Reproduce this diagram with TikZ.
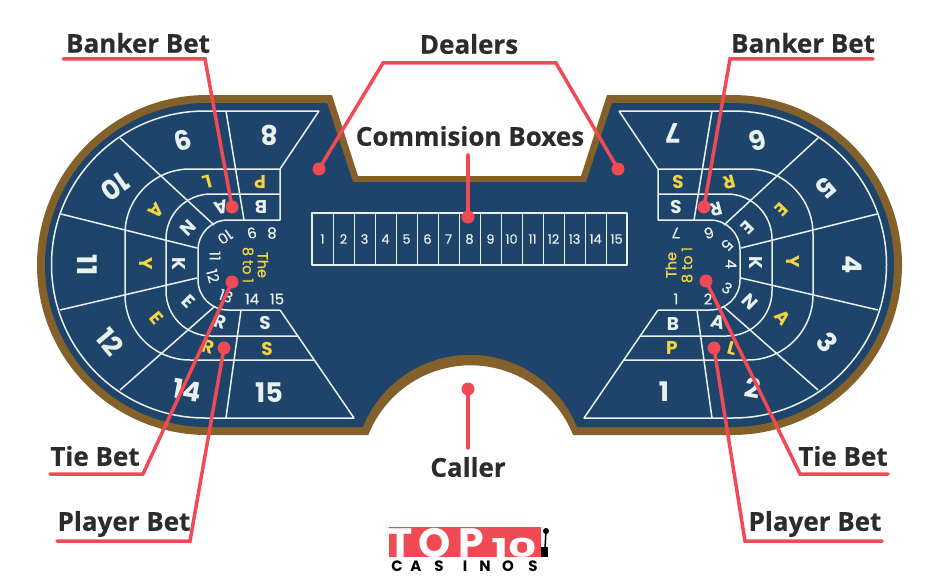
\documentclass[tikz,border=0pt]{standalone}
\usepackage{fontspec}
\setmainfont{Open Sans}[BoldFeatures={FakeBold=0.5}]
\newfontfamily\tablefont{Poppins}[FakeBold=0.4]
\newfontfamily\logofont{Poppins}
\definecolor{tableblue}{HTML}{1E446B}
\definecolor{tablebrown}{HTML}{84612A}
\definecolor{linewhite}{HTML}{E9F1EF}
\definecolor{betyellow}{HTML}{F3D53F}
\definecolor{calloutred}{HTML}{F04A54}
\definecolor{labelgrey}{HTML}{2C2C2C}
\newcommand{\betsidelines}{
    \draw[tableline] (319,111) -- (205,111)
        arc[start angle=-90,end angle=-270,radius=153.5pt] -- (354,418) -- (280,310);
    \draw[tableline] (319,111) -- (280,169) -- (190,169)
        arc[start angle=-90,end angle=-180,radius=65pt] -- (125,295)
        arc[start angle=-180,end angle=-270,radius=65pt] -- (314,360);
    \draw[tableline] (280,194) -- (211,194)
        arc[start angle=-90,end angle=-180,radius=45pt] -- (166,291)
        arc[start angle=-180,end angle=-270,radius=45pt] -- (298,336);
    \draw[tableline] (280,169) -- (280,220) -- (228,220)
        arc[start angle=-90,end angle=-180,radius=30pt] -- (198,280)
        arc[start angle=-180,end angle=-270,radius=30pt] -- (280,310);
    \draw[tableline] (226,111) -- (244,220);
    \draw[tableline] (241,310) -- (226,418);
    \draw[tableline] (120,138) -- (214,225);
    \draw[tableline] (120,390) -- (214,307);
    \draw[tableline] (61,214) -- (197,248);
    \draw[tableline] (60,310) -- (197,278);
}
\begin{document}
\begin{tikzpicture}[
        x=1pt, y=1pt, yscale=-1,
        tableline/.style={draw=linewhite, line width=1.5pt, line join=round},
        bignum/.style={text=linewhite, inner sep=0pt, font=\logofont\bfseries\fontsize{27}{27}\selectfont},
        smallnum/.style={text=linewhite, inner sep=0pt, font=\tablefont\fontsize{15}{15}\selectfont},
        boxnum/.style={text=linewhite, inner sep=0pt, font=\tablefont\fontsize{13}{13}\selectfont},
        whiteletter/.style={text=linewhite, inner sep=0pt, font=\logofont\bfseries\fontsize{18.5}{18.5}\selectfont},
        yellowletter/.style={text=betyellow, inner sep=0pt, font=\logofont\bfseries\fontsize{18.5}{18.5}\selectfont},
        yellowtext/.style={text=betyellow, inner sep=0pt, font=\tablefont\fontsize{14.5}{14.5}\selectfont},
        reddot/.style={circle, fill=calloutred, minimum size=13pt, inner sep=0pt},
        redline/.style={draw=calloutred, line width=3.5pt, line join=miter, line cap=round},
        callout/.style={text=labelgrey, inner sep=0pt, font=\bfseries\fontsize{26}{26}\selectfont},
        logoletter/.style={text=white, inner sep=0pt, anchor=base, font=\logofont\bfseries\fontsize{41}{41}\selectfont},
        logosmall/.style={text=black, inner sep=0pt, font=\logofont\bfseries\fontsize{15}{15}\selectfont},
    ]
    \useasboundingbox (0,0) rectangle (940,578);

    % table
    \fill[tablebrown] (207,95) -- (332,95) -- (358,176) -- (581,176) -- (607,95) -- (732,95)
        arc[start angle=-90,end angle=90,radius=170pt] -- (573,435)
        arc[start angle=-21.5,end angle=-158.5,radius=110pt] -- (207,435)
        arc[start angle=90,end angle=270,radius=170pt] -- cycle;
    \fill[tableblue] (207,103) -- (327,103) -- (353,182) -- (586,182) -- (612,103) -- (732,103)
        arc[start angle=-90,end angle=90,radius=162pt] -- (577,427)
        arc[start angle=-22,end angle=-158,radius=115.5pt] -- (207,427)
        arc[start angle=90,end angle=270,radius=162pt] -- cycle;

    \betsidelines
    \begin{scope}[xshift=938pt, xscale=-1]
        \betsidelines
    \end{scope}

    % commission boxes
    \draw[tableline] (312,213) rectangle (627,265);
    \foreach \n in {1,...,14}
        \draw[tableline, line width=1pt] ({312+21*\n},213) -- ({312+21*\n},265);
    \foreach \n in {1,...,15}
        \node[boxnum] (box\n) at ({301.5+21*\n},239) {\n};

    % left side
    \foreach \x/\y/\r/\t in {269/135/180/8, 183/140/195/9, 115/187/215/10, 87/265/270/11,
            110/342/-50/12, 187/390/-10/14, 269/393/0/15}
        \node[bignum, rotate=\r] (leftbig\t) at (\x,\y) {\t};
    \foreach \x/\y/\r/\t in {252/233/195/9, 272/233/180/8, 225/237/215/10, 215/256/270/11,
            213/276/285/12, 226/296/-20/13, 252/299/0/14, 277/299/0/15}
        \node[smallnum, rotate=\r] (leftsmall\t) at (\x,\y) {\t};
    \foreach \x/\y/\r/\t/\k in {260/182/180/P/1, 207/182/195/L/2, 156/211/225/A/3, 146/264/270/Y/4,
            157/318/-50/E/5, 208/347/-15/R/6, 267/349/0/S/7}
        \node[yellowletter, rotate=\r] (leftyellow\k) at (\x,\y) {\t};
    \foreach \x/\y/\r/\t/\k in {261/207/180/B/1, 221/208/195/A/2, 188/228/225/N/3, 179/264/270/K/4,
            189/301/-45/E/5, 220/322/-15/R/6, 265/323/0/S/7}
        \node[whiteletter, rotate=\r] (leftwhite\k) at (\x,\y) {\t};
    \node[yellowtext, rotate=270] (leftthe) at (263,265) {The};
    \node[yellowtext, rotate=270] (leftodds) at (248,265) {8 to 1};

    % right side
    \foreach \x/\y/\r/\t in {673/133/180/7, 758/140/195/6, 826/188/220/5, 852/265/270/4,
            827/342/-50/3, 753/388/-10/2, 664/392/0/1}
        \node[bignum, rotate=\r] (rightbig\t) at (\x,\y) {\t};
    \foreach \x/\y/\r/\t in {676/233/180/7, 709/233/195/6, 727/245/225/5, 731/264/270/4,
            727/288/-30/3, 708/299/0/2, 676/299/0/1}
        \node[smallnum, rotate=\r] (rightsmall\t) at (\x,\y) {\t};
    \foreach \x/\y/\r/\t/\k in {678/182/180/S/1, 729/182/195/R/2, 782/210/225/E/3, 793/262/270/Y/4,
            783/318/-50/A/5, 732/348/-15/L/6, 672/348/0/P/7}
        \node[yellowletter, rotate=\r] (rightyellow\k) at (\x,\y) {\t};
    \foreach \x/\y/\r/\t/\k in {676/207/180/S/1, 716/209/195/R/2, 748/228/225/E/3, 756/263/270/K/4,
            750/302/-45/N/5, 718/322/-15/A/6, 673/324/0/B/7}
        \node[whiteletter, rotate=\r] (rightwhite\k) at (\x,\y) {\t};
    \node[yellowtext, rotate=90] (rightthe) at (671,265) {The};
    \node[yellowtext, rotate=90] (rightodds) at (687,265) {8 to 1};

    % callouts
    \node[callout] (bankerleft) at (138,43) {Banker Bet};
    \node[callout] (bankerright) at (803,43) {Banker Bet};
    \node[callout] (dealers) at (469,44) {Dealers};
    \node[callout] (boxes) at (470,136) {Commision Boxes};
    \node[callout] (caller) at (468,467) {Caller};
    \node[callout] (tieleft) at (95,456) {Tie Bet};
    \node[callout] (tieright) at (843,456) {Tie Bet};
    \node[callout] (playerleft) at (124,524) {Player Bet};
    \node[callout] (playerright) at (815,524) {Player Bet};

    \node[reddot] (bankerleftdot) at (232,207) {};
    \node[reddot] (bankerrightdot) at (704,207) {};
    \node[reddot] (tieleftdot) at (232,282) {};
    \node[reddot] (tierightdot) at (706,281) {};
    \node[reddot] (playerleftdot) at (224,348) {};
    \node[reddot] (playerrightdot) at (714,348) {};
    \node[reddot] (dealerleftdot) at (319,169) {};
    \node[reddot] (dealerrightdot) at (618,169) {};
    \node[reddot] (boxesdot) at (468,217) {};
    \node[reddot] (callerdot) at (468,389) {};

    \coordinate (bankerleftknee) at (205,59);
    \coordinate (bankerrightknee) at (730,59);
    \coordinate (tieleftknee) at (143,474);
    \coordinate (tierightknee) at (800,474);
    \coordinate (playerleftknee) at (190,541);
    \coordinate (playerrightknee) at (745,541);
    \coordinate (dealerleftknee) at (383,63);
    \coordinate (dealerrightknee) at (556,63);

    \draw[redline] (63,59) -- (bankerleftknee) -- (bankerleftdot.center);
    \draw[redline] (873,59) -- (bankerrightknee) -- (bankerrightdot.center);
    \draw[redline] (50,474) -- (tieleftknee) -- (tieleftdot.center);
    \draw[redline] (888,474) -- (tierightknee) -- (tierightdot.center);
    \draw[redline] (57,541) -- (playerleftknee) -- (playerleftdot.center);
    \draw[redline] (882,541) -- (playerrightknee) -- (playerrightdot.center);
    \draw[redline] (dealerleftdot.center) -- (dealerleftknee) -- (dealerrightknee) -- (dealerrightdot.center);
    \draw[redline] (boxesdot.center) -- (468,155);
    \draw[redline] (callerdot.center) -- (468,448);

    % logo
    \fill[calloutred] (389,527) rectangle (541,557);
    \node[logoletter] (logoT) at (401,557) {T};
    \node[logoletter] (logoO) at (435,557) {O};
    \node[logoletter] (logoP) at (471,557) {P};
    \node[logoletter] (logoten) at (514,557) {\fontsize{26}{26}\selectfont\scalebox{1.7}[1]{10}};
    \foreach \x/\t/\k in {397/C/1, 416/A/2, 439/S/3, 465/I/4, 485/N/5, 508/O/6, 533/S/7}
        \node[logosmall] (logoletter\k) at (\x,566) {\t};
    \fill[black] (546,531) circle (3pt);
    \draw[black, line width=1.5pt] (546,531) -- (545,548);
    \fill[black] (541,547) rectangle (548,557);
\end{tikzpicture}
\end{document}
